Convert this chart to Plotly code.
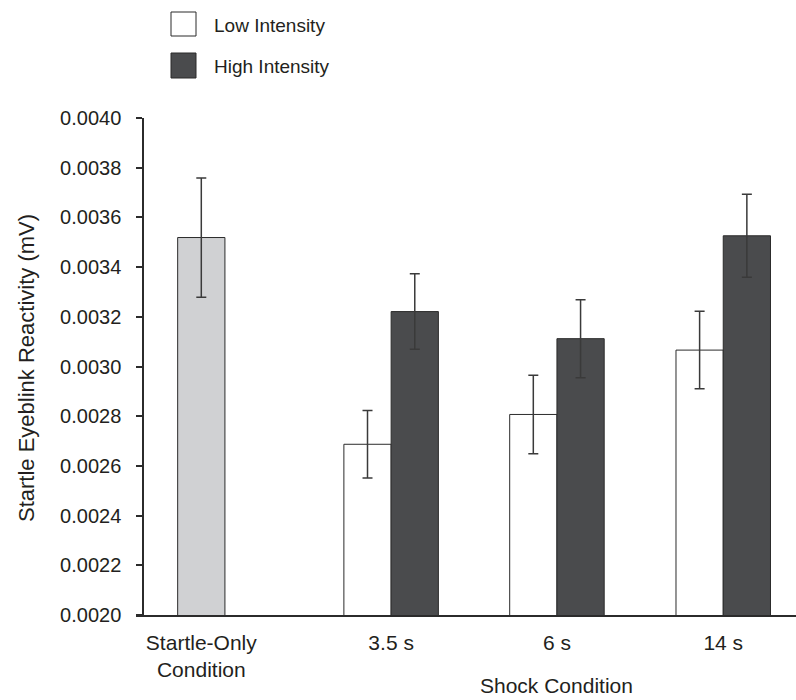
import plotly.graph_objects as go

# ---- data ----
groups = ["Startle-Only<br>Condition", "3.5 s", "6 s", "14 s"]
startle_only_mean = [0.003519]
startle_only_err = [0.000240]
low_means = [0.002687, 0.002807, 0.003066]
low_errs = [0.000136, 0.000158, 0.000156]
high_means = [0.003221, 0.003112, 0.003526]
high_errs = [0.000152, 0.000157, 0.000167]
y_ticks = [0.0020, 0.0022, 0.0024, 0.0026, 0.0028, 0.0030, 0.0032, 0.0034, 0.0036, 0.0038, 0.0040]

# ---- layout positions ----
group_pos = [0.0, 1.145, 2.145, 3.148]
bw = 0.285
FONT = "Liberation Sans, Arial, Helvetica, sans-serif"
TXT = "#231f20"
LINE = "#2b2b2b"

fig = go.Figure()
fig.add_trace(go.Bar(
    name="Startle-Only", x=group_pos[:1], y=startle_only_mean, width=bw,
    marker=dict(color="#d0d1d3", line=dict(color=LINE, width=1)),
    error_y=dict(type="data", array=startle_only_err, color="#3a3a3a", thickness=1.5, width=5),
    showlegend=False,
))
fig.add_trace(go.Bar(
    name="Low Intensity", x=group_pos[1:], y=low_means, width=bw, offset=-bw,
    marker=dict(color="#ffffff", line=dict(color=LINE, width=1)),
    error_y=dict(type="data", array=low_errs, color="#3a3a3a", thickness=1.5, width=5),
    showlegend=False,
))
fig.add_trace(go.Bar(
    name="High Intensity", x=group_pos[1:], y=high_means, width=bw, offset=0,
    marker=dict(color="#4a4b4d", line=dict(color=LINE, width=1)),
    error_y=dict(type="data", array=high_errs, color="#3a3a3a", thickness=1.5, width=5),
    showlegend=False,
))

W, H = 796, 700
L, R, T, B = 136, 0, 118, 85
pw = W - L - R
ph = H - T - B

def px_x(px):
    return (px - L) / pw

def px_y(py):
    return (H - B - py) / ph

# legend drawn as swatches + text
shapes = []
annotations = []
for (y0, y1, col, label) in [(12, 36, "#ffffff", "Low Intensity"), (53, 78, "#4a4b4d", "High Intensity")]:
    shapes.append(dict(type="rect", xref="paper", yref="paper",
                       x0=px_x(171), x1=px_x(196), y0=px_y(y1), y1=px_y(y0),
                       fillcolor=col, line=dict(color=LINE, width=1)))
    annotations.append(dict(text=label, xref="paper", yref="paper",
                            x=px_x(212), y=px_y((y0 + y1) / 2 + 1), xanchor="left", yanchor="middle",
                            showarrow=False, font=dict(family=FONT, size=19, color=TXT)))

annotations.append(dict(text="Shock Condition", xref="x", yref="paper",
                        x=group_pos[2], y=px_y(699), xanchor="center", yanchor="bottom",
                        showarrow=False, font=dict(family=FONT, size=21, color=TXT)))
annotations.append(dict(text="Startle Eyeblink Reactivity (mV)", xref="paper", yref="paper",
                        x=px_x(26), y=px_y(368), xanchor="center", yanchor="middle",
                        textangle=-90, showarrow=False,
                        font=dict(family=FONT, size=22, color=TXT)))

fig.update_layout(
    width=W, height=H,
    margin=dict(l=L, r=R, t=T, b=B, pad=0),
    paper_bgcolor="white", plot_bgcolor="white",
    barmode="overlay",
    font=dict(family=FONT, color=TXT),
    shapes=shapes, annotations=annotations,
    xaxis=dict(
        range=[(136 - 201.3) / 165.8, (796 - 201.3) / 165.8],
        showgrid=False, zeroline=False,
        showline=True, linecolor=LINE, linewidth=1.5,
        tickvals=group_pos, ticktext=groups, ticks="",
        tickfont=dict(family=FONT, size=21, color=TXT),
        ticklabelstandoff=8,
    ),
    yaxis=dict(
        range=[0.0020, 0.0040],
        anchor="free", position=(143 - L) / pw,
        showgrid=False, zeroline=False,
        showline=True, linecolor=LINE, linewidth=1.5,
        tickvals=y_ticks, ticktext=[f"{v:.4f}" for v in y_ticks],
        ticks="outside", ticklen=6, tickwidth=1.5, tickcolor=LINE,
        tickfont=dict(family=FONT, size=20, color=TXT),
        ticklabelstandoff=11,
    ),
)

fig.write_html("out.html")
